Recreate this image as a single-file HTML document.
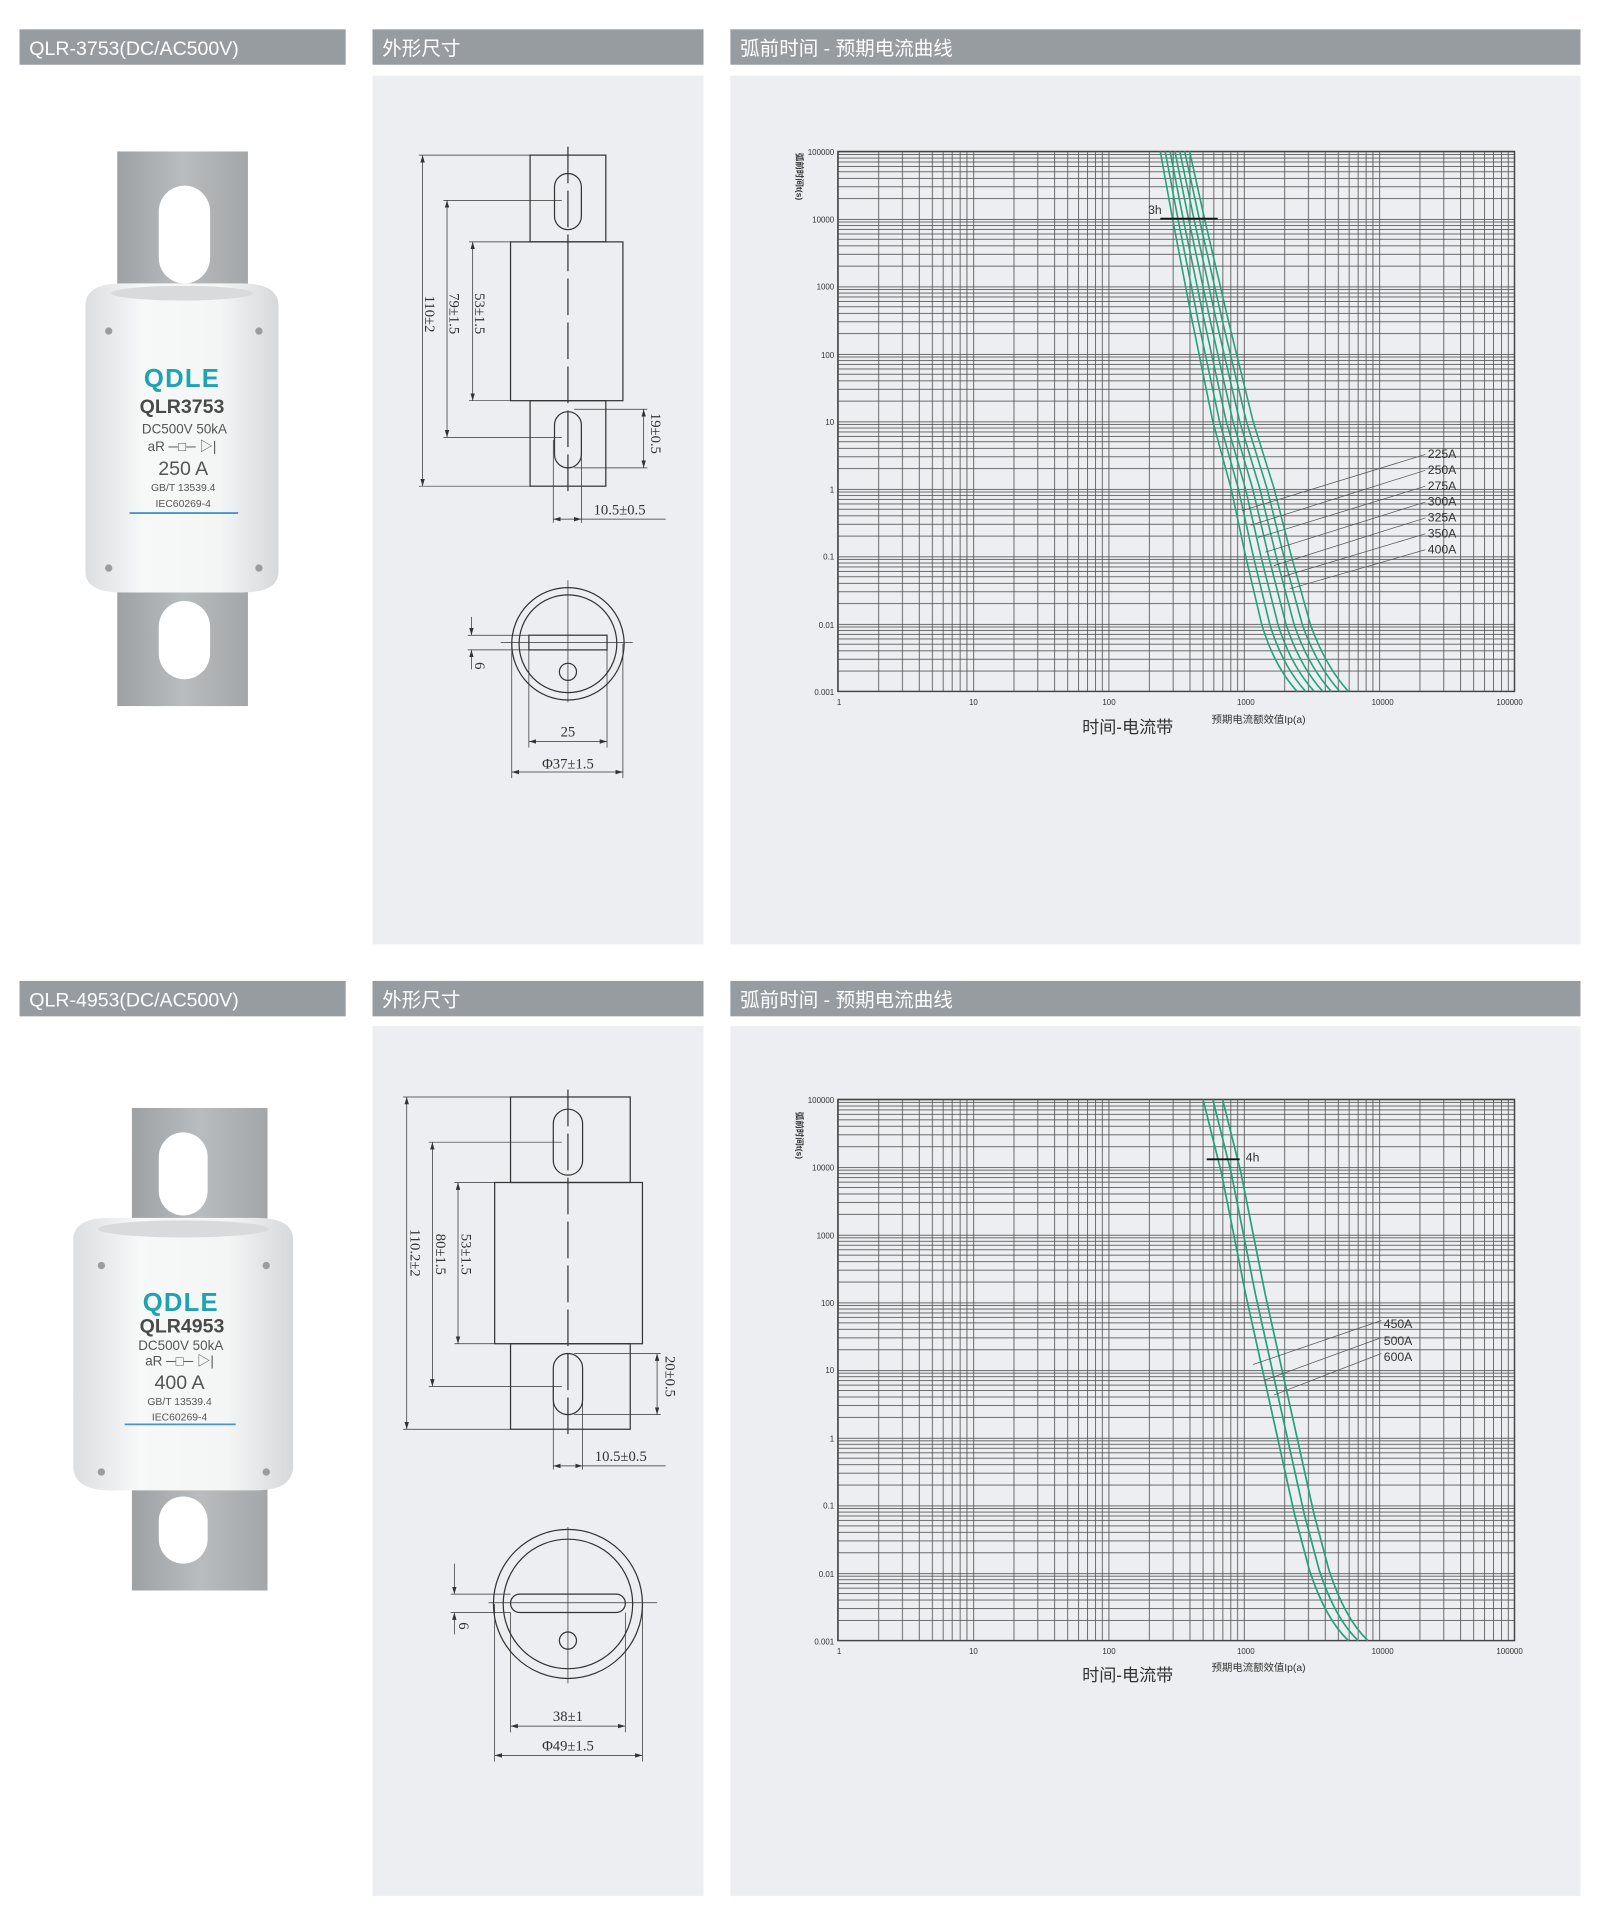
<!DOCTYPE html>
<html><head><meta charset="utf-8"><style>html,body{margin:0;padding:0;background:#fff}svg{display:block}</style></head>
<body>
<svg width="1600" height="1913" viewBox="0 0 1310 1566" preserveAspectRatio="none" xmlns="http://www.w3.org/2000/svg" font-family="Liberation Sans, Noto Sans CJK SC, sans-serif">
<defs>
<marker id="ar" viewBox="0 0 10 10" refX="10" refY="5" markerWidth="6" markerHeight="6" orient="auto-start-reverse" markerUnits="userSpaceOnUse"><path d="M0,2 L10,5 L0,8 Z" fill="#333"/></marker>
<pattern id="v1" x="686" y="0" width="110.8" height="10" patternUnits="userSpaceOnUse">
 <g stroke="#555" stroke-width="0.7">
 <line x1="0" y1="0" x2="0" y2="10" stroke-width="1.4"/>
 <line x1="33.4" y1="0" x2="33.4" y2="10"/><line x1="52.9" y1="0" x2="52.9" y2="10"/><line x1="66.7" y1="0" x2="66.7" y2="10"/><line x1="77.4" y1="0" x2="77.4" y2="10"/><line x1="86.2" y1="0" x2="86.2" y2="10"/><line x1="93.6" y1="0" x2="93.6" y2="10"/><line x1="100.1" y1="0" x2="100.1" y2="10"/><line x1="105.7" y1="0" x2="105.7" y2="10"/></g>
</pattern>
<pattern id="h1" x="0" y="124" width="10" height="55.25" patternUnits="userSpaceOnUse">
 <g stroke="#555" stroke-width="0.7">
 <line x1="0" y1="0" x2="10" y2="0" stroke-width="1.4"/>
 <line x1="0" y1="2.5" x2="10" y2="2.5"/><line x1="0" y1="5.4" x2="10" y2="5.4"/><line x1="0" y1="8.6" x2="10" y2="8.6"/><line x1="0" y1="12.3" x2="10" y2="12.3"/><line x1="0" y1="16.6" x2="10" y2="16.6"/><line x1="0" y1="22" x2="10" y2="22"/><line x1="0" y1="28.9" x2="10" y2="28.9"/><line x1="0" y1="38.6" x2="10" y2="38.6"/></g>
</pattern>
<pattern id="h2" x="0" y="900" width="10" height="55.4" patternUnits="userSpaceOnUse">
 <g stroke="#555" stroke-width="0.7">
 <line x1="0" y1="0" x2="10" y2="0" stroke-width="1.4"/>
 <line x1="0" y1="2.5" x2="10" y2="2.5"/><line x1="0" y1="5.4" x2="10" y2="5.4"/><line x1="0" y1="8.6" x2="10" y2="8.6"/><line x1="0" y1="12.3" x2="10" y2="12.3"/><line x1="0" y1="16.7" x2="10" y2="16.7"/><line x1="0" y1="22" x2="10" y2="22"/><line x1="0" y1="29" x2="10" y2="29"/><line x1="0" y1="38.7" x2="10" y2="38.7"/></g>
</pattern>
<linearGradient id="tab" x1="0" x2="1"><stop offset="0" stop-color="#9ea1a4"/><stop offset="0.5" stop-color="#b9bcbe"/><stop offset="1" stop-color="#a3a6a8"/></linearGradient>
<linearGradient id="body" x1="0" x2="1"><stop offset="0" stop-color="#dcdee0"/><stop offset="0.3" stop-color="#f7f8f8"/><stop offset="0.7" stop-color="#f4f5f5"/><stop offset="1" stop-color="#d6d8da"/></linearGradient>
<path id="c2" d="M985,900 L1000,960 L1020,1060 L1040,1150 L1060,1240 L1072,1285 Q1085,1325 1104,1343" fill="none" stroke="#22a37a" stroke-width="1.4"/>
</defs>

<!-- headers -->
<g fill="#979ca1">
<rect x="16" y="24" width="267" height="29"/><rect x="305" y="24" width="271" height="29"/><rect x="598" y="24" width="696" height="29"/>
<rect x="16" y="803" width="267" height="29"/><rect x="305" y="803" width="271" height="29"/><rect x="598" y="803" width="696" height="29"/>
</g>
<g fill="#fff" font-size="16">
<text x="24" y="45">QLR-3753(DC/AC500V)</text><text x="313" y="45">外形尺寸</text><text x="606" y="45">弧前时间 - 预期电流曲线</text>
<text x="24" y="824">QLR-4953(DC/AC500V)</text><text x="313" y="824">外形尺寸</text><text x="606" y="824">弧前时间 - 预期电流曲线</text>
</g>
<g fill="#eceef1">
<rect x="305" y="62" width="271" height="711"/><rect x="598" y="62" width="696" height="711"/>
<rect x="305" y="840" width="271" height="712"/><rect x="598" y="840" width="696" height="712"/>
</g>

<!-- fuse 1 -->
<rect x="96" y="124" width="107" height="125" fill="url(#tab)"/>
<rect x="130" y="152" width="42" height="80" rx="21" fill="#fff"/>
<rect x="96" y="468" width="107" height="110" fill="url(#tab)"/>
<rect x="130" y="492" width="42" height="64" rx="21" fill="#fff"/>
<path d="M70,250 Q70,232 100,232 L198,232 Q228,232 228,250 L228,468 Q228,485 198,485 L100,485 Q70,485 70,468 Z" fill="url(#body)"/>
<ellipse cx="149" cy="240" rx="58" ry="6" fill="#d8dadc"/>
<g fill="#9a9c9e"><circle cx="89" cy="271" r="3"/><circle cx="212" cy="271" r="3"/><circle cx="89" cy="465" r="3"/><circle cx="212" cy="465" r="3"/></g>
<g text-anchor="middle" fill="#555">
<text x="149" y="317" font-size="21" font-weight="bold" fill="#1fa3b3" letter-spacing="1">QDLE</text>
<text x="149" y="338" font-size="16" font-weight="bold" fill="#4a4a4a">QLR3753</text>
<text x="151" y="355" font-size="11">DC500V  50kA</text>
<text x="149" y="369" font-size="11">aR ─□─ ▷|</text>
<text x="150" y="389" font-size="16">250 A</text>
<text x="150" y="402" font-size="8.5">GB/T 13539.4</text>
<text x="150" y="415" font-size="8.5">IEC60269-4</text>
</g>
<line x1="106" y1="420" x2="195" y2="420" stroke="#4b93c9" stroke-width="1.5"/>

<!-- fuse 2 -->
<rect x="108" y="907" width="111" height="105" fill="url(#tab)"/>
<rect x="130" y="927" width="40" height="68" rx="20" fill="#fff"/>
<rect x="108" y="1208" width="111" height="94" fill="url(#tab)"/>
<rect x="130" y="1225" width="40" height="55" rx="20" fill="#fff"/>
<path d="M60,1015 Q60,997 90,997 L210,997 Q240,997 240,1015 L240,1200 Q240,1220 210,1220 L90,1220 Q60,1220 60,1200 Z" fill="url(#body)"/>
<ellipse cx="150" cy="1006" rx="70" ry="7" fill="#d8dadc"/>
<g fill="#9a9c9e"><circle cx="83" cy="1036" r="3"/><circle cx="218" cy="1036" r="3"/><circle cx="83" cy="1205" r="3"/><circle cx="218" cy="1205" r="3"/></g>
<g text-anchor="middle" fill="#555">
<text x="148" y="1073" font-size="21" font-weight="bold" fill="#1fa3b3" letter-spacing="1">QDLE</text>
<text x="149" y="1091" font-size="16" font-weight="bold" fill="#4a4a4a">QLR4953</text>
<text x="148" y="1105" font-size="11">DC500V  50kA</text>
<text x="147" y="1118" font-size="11">aR ─□─ ▷|</text>
<text x="147" y="1137" font-size="16">400 A</text>
<text x="147" y="1150" font-size="8.5">GB/T 13539.4</text>
<text x="147" y="1163" font-size="8.5">IEC60269-4</text>
</g>
<line x1="102" y1="1166" x2="193" y2="1166" stroke="#4b93c9" stroke-width="1.5"/>

<!-- drawing 1 -->
<g fill="none" stroke="#333" stroke-width="1">
<rect x="434" y="127" width="62" height="71"/><rect x="418" y="198" width="92" height="130"/><rect x="434" y="328" width="62" height="70"/>
<rect x="454" y="142" width="22" height="46" rx="11"/><rect x="454" y="337" width="22" height="46" rx="11"/>
<line x1="465" y1="120" x2="465" y2="405" stroke-dasharray="30,6"/>
<g stroke-width="0.6"><line x1="343" y1="127" x2="434" y2="127"/><line x1="343" y1="398" x2="434" y2="398"/>
<line x1="363" y1="164" x2="460" y2="164"/><line x1="363" y1="358" x2="460" y2="358"/>
<line x1="384" y1="198" x2="418" y2="198"/><line x1="384" y1="328" x2="418" y2="328"/>
<line x1="470" y1="335" x2="530" y2="335"/><line x1="470" y1="383" x2="530" y2="383"/>
<line x1="453" y1="360" x2="453" y2="428"/><line x1="476" y1="360" x2="476" y2="428"/><line x1="476" y1="425" x2="545" y2="425"/>
<g marker-start="url(#ar)" marker-end="url(#ar)">
<line x1="346" y1="127" x2="346" y2="398"/><line x1="366" y1="164" x2="366" y2="358"/><line x1="387" y1="198" x2="387" y2="328"/><line x1="527" y1="335" x2="527" y2="383"/><line x1="453" y1="425" x2="476" y2="425"/></g></g>
<circle cx="465" cy="527" r="46"/><circle cx="465" cy="527" r="40"/>
<rect x="433" y="520" width="64" height="12"/><circle cx="465" cy="550" r="7"/>
<g stroke-width="0.6"><line x1="410" y1="526" x2="518" y2="526"/><line x1="465" y1="475" x2="465" y2="575"/>
<line x1="383" y1="520" x2="433" y2="520"/><line x1="383" y1="532" x2="433" y2="532"/>
<line x1="386" y1="505" x2="386" y2="520" marker-end="url(#ar)"/><line x1="386" y1="548" x2="386" y2="532" marker-end="url(#ar)"/>
<line x1="433" y1="532" x2="433" y2="612"/><line x1="497" y1="532" x2="497" y2="612"/><line x1="433" y1="607" x2="497" y2="607" marker-start="url(#ar)" marker-end="url(#ar)"/>
<line x1="419" y1="527" x2="419" y2="637"/><line x1="510" y1="527" x2="510" y2="637"/><line x1="419" y1="632" x2="510" y2="632" marker-start="url(#ar)" marker-end="url(#ar)"/></g>
</g>
<g fill="#333" font-size="12" font-family="Liberation Serif, serif">
<text transform="translate(348,242) rotate(90)">110±2</text>
<text transform="translate(368,240) rotate(90)">79±1.5</text>
<text transform="translate(389,240) rotate(90)">53±1.5</text>
<text transform="translate(533,338) rotate(90)">19±0.5</text>
<text x="486" y="421">10.5±0.5</text>
<text transform="translate(389,542) rotate(90)">6</text>
<text x="465" y="603" text-anchor="middle">25</text>
<text x="465" y="629" text-anchor="middle">Φ37±1.5</text>
</g>

<!-- drawing 2 -->
<g fill="none" stroke="#333" stroke-width="1">
<rect x="418" y="898" width="98" height="70"/><rect x="405" y="968" width="121" height="132"/><rect x="418" y="1100" width="98" height="70"/>
<rect x="453" y="908" width="24" height="54" rx="12"/><rect x="453" y="1108" width="24" height="50" rx="12"/>
<line x1="465" y1="892" x2="465" y2="1178" stroke-dasharray="30,6"/>
<g stroke-width="0.6"><line x1="330" y1="898" x2="418" y2="898"/><line x1="330" y1="1170" x2="418" y2="1170"/>
<line x1="351" y1="935" x2="460" y2="935"/><line x1="351" y1="1135" x2="460" y2="1135"/>
<line x1="372" y1="968" x2="405" y2="968"/><line x1="372" y1="1100" x2="405" y2="1100"/>
<line x1="470" y1="1108" x2="541" y2="1108"/><line x1="470" y1="1158" x2="541" y2="1158"/>
<line x1="453" y1="1135" x2="453" y2="1203"/><line x1="477" y1="1135" x2="477" y2="1203"/><line x1="477" y1="1200" x2="545" y2="1200"/>
<g marker-start="url(#ar)" marker-end="url(#ar)">
<line x1="333" y1="898" x2="333" y2="1170"/><line x1="354" y1="935" x2="354" y2="1135"/><line x1="375" y1="968" x2="375" y2="1100"/><line x1="538" y1="1108" x2="538" y2="1158"/><line x1="453" y1="1200" x2="477" y2="1200"/></g></g>
<circle cx="465" cy="1313" r="61"/><circle cx="465" cy="1313" r="53"/>
<rect x="418" y="1305" width="94" height="15" rx="7.5"/><circle cx="465" cy="1343" r="7"/>
<g stroke-width="0.6"><line x1="400" y1="1312" x2="538" y2="1312"/><line x1="465" y1="1250" x2="465" y2="1378"/>
<line x1="369" y1="1305" x2="418" y2="1305"/><line x1="369" y1="1320" x2="418" y2="1320"/>
<line x1="372" y1="1280" x2="372" y2="1305" marker-end="url(#ar)"/><line x1="372" y1="1338" x2="372" y2="1320" marker-end="url(#ar)"/>
<line x1="418" y1="1320" x2="418" y2="1418"/><line x1="512" y1="1320" x2="512" y2="1418"/><line x1="418" y1="1413" x2="512" y2="1413" marker-start="url(#ar)" marker-end="url(#ar)"/>
<line x1="405" y1="1313" x2="405" y2="1442"/><line x1="526" y1="1313" x2="526" y2="1442"/><line x1="405" y1="1437" x2="526" y2="1437" marker-start="url(#ar)" marker-end="url(#ar)"/></g>
</g>
<g fill="#333" font-size="12" font-family="Liberation Serif, serif">
<text transform="translate(336,1006) rotate(90)">110.2±2</text>
<text transform="translate(357,1010) rotate(90)">80±1.5</text>
<text transform="translate(378,1010) rotate(90)">53±1.5</text>
<text transform="translate(545,1110) rotate(90)">20±0.5</text>
<text x="487" y="1196">10.5±0.5</text>
<text transform="translate(376,1328) rotate(90)">6</text>
<text x="465" y="1409" text-anchor="middle">38±1</text>
<text x="465" y="1433" text-anchor="middle">Φ49±1.5</text>
</g>

<!-- chart 1 -->
<rect x="686" y="124" width="554" height="442" fill="url(#v1)"/>
<rect x="686" y="124" width="554" height="442" fill="url(#h1)"/>
<rect x="686" y="124" width="554" height="442" fill="none" stroke="#444" stroke-width="1.2"/>
<g fill="none" stroke="#22a37a" stroke-width="1.3">
<path d="M950,124 L960,179 L976,262 L993,345 L1008,400 L1020,456 L1033,511 Q1043,545 1062,566"/>
<path d="M954,124 L964.4,179 L980.9,262 L998.5,345 L1013.9,400 L1026.3,456 L1039.6,511 Q1050,545 1069,566"/>
<path d="M958,124 L968.7,179 L985.9,262 L1004,345 L1019.7,400 L1032.5,456 L1046.3,511 Q1057,545 1076,566"/>
<path d="M962,124 L973.1,179 L990.8,262 L1009.5,345 L1025.6,400 L1038.8,456 L1052.9,511 Q1064,545 1083,566"/>
<path d="M966,124 L977.5,179 L995.8,262 L1015,345 L1031.5,400 L1045,456 L1059.5,511 Q1071,545 1090,566"/>
<path d="M970,124 L981.9,179 L1000.7,262 L1020.5,345 L1037.4,400 L1051.3,456 L1066.2,511 Q1078,545 1097,566"/>
<path d="M974,124 L986.2,179 L1005.6,262 L1026,345 L1043.2,400 L1057.5,456 L1072.8,511 Q1085,545 1104,566"/>
</g>
<line x1="950" y1="179" x2="997" y2="179" stroke="#111" stroke-width="1.5"/>
<text x="940" y="175" font-size="10" fill="#333">3h</text>
<g stroke="#555" stroke-width="0.6">
<line x1="1017" y1="418" x2="1167" y2="372"/><line x1="1024" y1="430" x2="1167" y2="385"/><line x1="1030" y1="440" x2="1167" y2="398"/><line x1="1036" y1="452" x2="1167" y2="411"/><line x1="1043" y1="463" x2="1167" y2="424"/><line x1="1050" y1="472" x2="1167" y2="437"/><line x1="1056" y1="482" x2="1167" y2="450"/>
</g>
<g font-size="10" fill="#333"><text x="1169" y="375">225A</text><text x="1169" y="388">250A</text><text x="1169" y="401">275A</text><text x="1169" y="414">300A</text><text x="1169" y="427">325A</text><text x="1169" y="440">350A</text><text x="1169" y="453">400A</text></g>
<g font-size="6.5" fill="#333" text-anchor="end">
<text x="683" y="127">100000</text><text x="683" y="182">10000</text><text x="683" y="237">1000</text><text x="683" y="293">100</text><text x="683" y="348">10</text><text x="683" y="403">1</text><text x="683" y="458">0.1</text><text x="683" y="514">0.01</text><text x="683" y="569">0.001</text></g>
<g font-size="6.5" fill="#333" text-anchor="middle">
<text x="687" y="577">1</text><text x="797" y="577">10</text><text x="908" y="577">100</text><text x="1020" y="577">1000</text><text x="1132" y="577">10000</text><text x="1236" y="577">100000</text></g>
<text transform="translate(652,125) rotate(90)" font-size="7" fill="#333" font-weight="bold">弧前时间t(s)</text>
<text x="886" y="600" font-size="14" fill="#333">时间-电流带</text>
<text x="992" y="592" font-size="8.5" fill="#333">预期电流额效值Ip(a)</text>

<!-- chart 2 -->
<rect x="686" y="900" width="554" height="443" fill="url(#v1)"/>
<rect x="686" y="900" width="554" height="443" fill="url(#h2)"/>
<rect x="686" y="900" width="554" height="443" fill="none" stroke="#444" stroke-width="1.2"/>
<use href="#c2"/><use href="#c2" transform="translate(8,0)"/><use href="#c2" transform="translate(16,0)"/>
<line x1="988" y1="949" x2="1015" y2="949" stroke="#111" stroke-width="1.5"/>
<text x="1020" y="951" font-size="10" fill="#333">4h</text>
<g stroke="#555" stroke-width="0.6">
<line x1="1026" y1="1117" x2="1131" y2="1081"/><line x1="1035" y1="1130" x2="1131" y2="1095"/><line x1="1043" y1="1142" x2="1131" y2="1108"/></g>
<g font-size="10" fill="#333"><text x="1133" y="1087">450A</text><text x="1133" y="1101">500A</text><text x="1133" y="1114">600A</text></g>
<g font-size="6.5" fill="#333" text-anchor="end">
<text x="683" y="903">100000</text><text x="683" y="958">10000</text><text x="683" y="1014">1000</text><text x="683" y="1069">100</text><text x="683" y="1124">10</text><text x="683" y="1180">1</text><text x="683" y="1235">0.1</text><text x="683" y="1291">0.01</text><text x="683" y="1346">0.001</text></g>
<g font-size="6.5" fill="#333" text-anchor="middle">
<text x="687" y="1354">1</text><text x="797" y="1354">10</text><text x="908" y="1354">100</text><text x="1020" y="1354">1000</text><text x="1132" y="1354">10000</text><text x="1236" y="1354">100000</text></g>
<text transform="translate(652,910) rotate(90)" font-size="7" fill="#333" font-weight="bold">弧前时间t(s)</text>
<text x="886" y="1376" font-size="14" fill="#333">时间-电流带</text>
<text x="992" y="1368" font-size="8.5" fill="#333">预期电流额效值Ip(a)</text>
</svg>
</body></html>
